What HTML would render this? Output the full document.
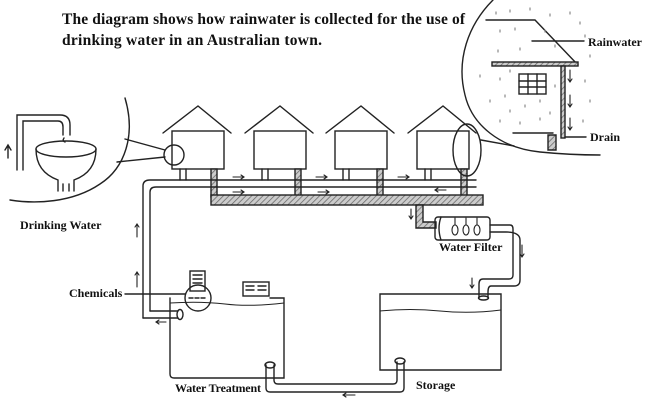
<!DOCTYPE html>
<html><head><meta charset="utf-8"><style>
html,body{margin:0;padding:0;background:#fff;}
svg{display:block;}
text{font-family:"Liberation Serif",serif;font-weight:bold;fill:#111;}
</style></head><body>
<svg width="646" height="405" viewBox="0 0 646 405" xmlns="http://www.w3.org/2000/svg">
<defs>
<pattern id="h" width="4" height="4" patternUnits="userSpaceOnUse" patternTransform="rotate(45)">
<rect width="4" height="4" fill="#ccc"/><line x1="0" y1="0" x2="0" y2="4" stroke="#666" stroke-width="1.5"/>
</pattern>
</defs>
<g stroke="#222" stroke-width="1.4" fill="none" stroke-linecap="round">
<text x="62" y="24" font-size="15.5" stroke="none" textLength="403">The diagram shows how rainwater is collected for the use of</text>
<text x="62" y="45" font-size="15.5" stroke="none" textLength="260">drinking water in an Australian town.</text>

<path d="M125,98 C136,135 125,168 100,184 C72,203 35,204 10,200"/>
<line x1="125" y1="139" x2="165" y2="150"/>
<line x1="117" y1="162" x2="165" y2="157"/>
<circle cx="174" cy="155" r="10"/>
<path d="M17,170 V115 H60 Q70,115 70,125 V135 M23,170 V121 H58 Q63,121 63,127 V135"/>
<path d="M64,138 q-2,3 1,4"/>
<ellipse cx="66" cy="149" rx="30" ry="8"/>
<path d="M36,149 Q36,172 58,180 V191 M96,149 Q96,172 74,180 V191 M63,184 V191 M69,184 V191"/>
<path d="M8,158 V146 M5,150 L8,145 L11,150"/>
<text x="20" y="229" font-size="12" stroke="none">Drinking Water</text>

<g id="hs">
<path d="M163,133 L198,106 L231,133"/>
<rect x="172" y="131" width="52" height="38"/>
<line x1="180" y1="169" x2="180" y2="180"/><line x1="186" y1="169" x2="186" y2="180"/>
</g>
<use href="#hs" x="82"/><use href="#hs" x="163"/><use href="#hs" x="245"/>
<g fill="url(#h)">
<rect x="211" y="169" width="6" height="28"/><rect x="295" y="169" width="6" height="28"/>
<rect x="377" y="169" width="6" height="28"/><rect x="461" y="169" width="6" height="28"/>
<rect x="211" y="195" width="272" height="10"/>
<path d="M416,205 V228 H436 V222 H423 V205 Z"/>
</g>
<path d="M143,318 V186 Q143,180 150,180 H476 M150,311 V192 Q150,187 156,187 H476"/>
<g stroke-width="1.1">
<path d="M233,177 H244 M241,175 L244,177 L241,179"/>
<path d="M316,177 H327 M324,175 L327,177 L324,179"/>
<path d="M398,177 H409 M406,175 L409,177 L406,179"/>
<path d="M233,192 H244 M241,190 L244,192 L241,194"/>
<path d="M318,192 H329 M326,190 L329,192 L326,194"/>
<path d="M435,190 H446 M438,188 L435,190 L438,192"/>
<path d="M411,209 V219 M409,216 L411,219 L413,216"/>
</g>
<ellipse cx="467" cy="150" rx="14" ry="26"/>
<line x1="481" y1="140" x2="514" y2="146"/>

<path d="M493,0 C468,25 456,60 465,95 C472,125 500,148 540,152 C560,154 575,155 600,155"/>
<path d="M486,20 H535 L578,65"/>
<rect x="492" y="62" width="86" height="4" fill="url(#h)"/>
<rect x="561" y="66" width="4" height="72" fill="url(#h)"/>
<path d="M513,133 H553"/>
<path d="M548,135 H556 V150 H548 Z" fill="url(#h)"/>
<rect x="519" y="74" width="27" height="20"/>
<path d="M528,74 V94 M537,74 V94 M519,81 H546 M519,87 H546"/>
<g stroke-width="1.1">
<path d="M570,70 V82 M568,79 L570,82 L572,79 M570,95 V107 M568,104 L570,107 L572,104 M570,118 V130 M568,127 L570,130 L572,127"/>
</g>
<line x1="532" y1="41" x2="584" y2="41"/>
<line x1="565" y1="137" x2="586" y2="137"/>
<text x="588" y="46" font-size="12" stroke="none">Rainwater</text>
<text x="590" y="141" font-size="12" stroke="none">Drain</text>
<g stroke="#888" stroke-width="1.2">
<path d="M496,12 v2 M510,10 v2 M530,8 v2 M550,14 v2 M570,12 v2 M580,22 v2 M500,30 v2 M515,28 v2 M545,30 v2 M585,35 v2 M498,50 v2 M520,48 v2 M555,45 v2 M590,55 v2 M480,75 v2 M500,78 v2 M505,95 v2 M490,100 v2 M510,110 v2 M525,105 v2 M540,100 v2 M550,112 v2 M585,80 v2 M590,100 v2 M583,120 v2 M500,120 v2 M520,122 v2 M540,118 v2 M555,85 v2 M510,70 v2"/>
</g>

<rect x="435" y="217" width="55" height="23" rx="3"/>
<path d="M441,217 Q437,228 441,240"/>
<g stroke-width="1.1"><ellipse cx="455" cy="230" rx="3" ry="5"/><ellipse cx="466" cy="230" rx="3" ry="5"/><ellipse cx="477" cy="230" rx="3" ry="5"/>
<path d="M455,218 V225 M466,218 V225 M477,218 V225"/></g>
<path d="M490,225 H510 Q513,225 513,229 V275 Q513,279 509,279 H483 Q479,279 479,284 V298 M490,232 H506 Q520,232 520,240 V280 Q520,286 514,286 H491 Q488,286 488,292 V298"/>
<ellipse cx="483.5" cy="298" rx="5" ry="2"/>
<g stroke-width="1.1">
<path d="M522,245 V257 M520,254 L522,257 L524,254"/>
<path d="M472,278 V288 M470,285 L472,288 L474,285"/>
</g>
<text x="439" y="251" font-size="12" stroke="none">Water Filter</text>

<path d="M170,298 V374 Q170,378 174,378 H284 V298 H270"/>
<path d="M170,303 Q200,301 225,304 T284,303" stroke-width="1"/>
<path d="M150,311 H178 M143,318 H178"/>
<ellipse cx="180" cy="314.5" rx="3" ry="5"/>
<rect x="190" y="271" width="15" height="20"/>
<path d="M193,275 H202 M193,279 H202 M193,283 H202"/>
<rect x="243" y="282" width="26" height="14"/>
<path d="M246,286 H254 M258,286 H266 M246,290 H254 M258,290 H266"/>
<circle cx="198" cy="298" r="13"/>
<path d="M189,298 h4 M195,298 h4 M201,298 h4"/>
<line x1="125" y1="294" x2="185" y2="294"/>
<text x="69" y="297" font-size="12" stroke="none">Chemicals</text>
<g stroke-width="1.1">
<path d="M137,287 V272 M135,275 L137,272 L139,275"/>
<path d="M137,237 V224 M135,227 L137,224 L139,227"/>
<path d="M156,322 H166 M159,320 L156,322 L159,324"/>
<path d="M343,395 H355 M346,393 L343,395 L346,397"/>
</g>
<path d="M266,365 V388 Q266,392 270,392 H400 Q404,392 404,388 V362 M274,365 V380 Q274,384 278,384 H393 Q397,384 397,380 V362"/>
<ellipse cx="270" cy="365" rx="5" ry="3"/>
<ellipse cx="400" cy="361" rx="5" ry="3"/>
<path d="M380,294 H501 V370 H380 Z"/>
<path d="M380,311 Q410,308 440,311 T501,310" stroke-width="1"/>
<text x="175" y="392" font-size="12" stroke="none" textLength="86">Water Treatment</text>
<text x="416" y="389" font-size="12" stroke="none">Storage</text>
</g>
</svg>
</body></html>
